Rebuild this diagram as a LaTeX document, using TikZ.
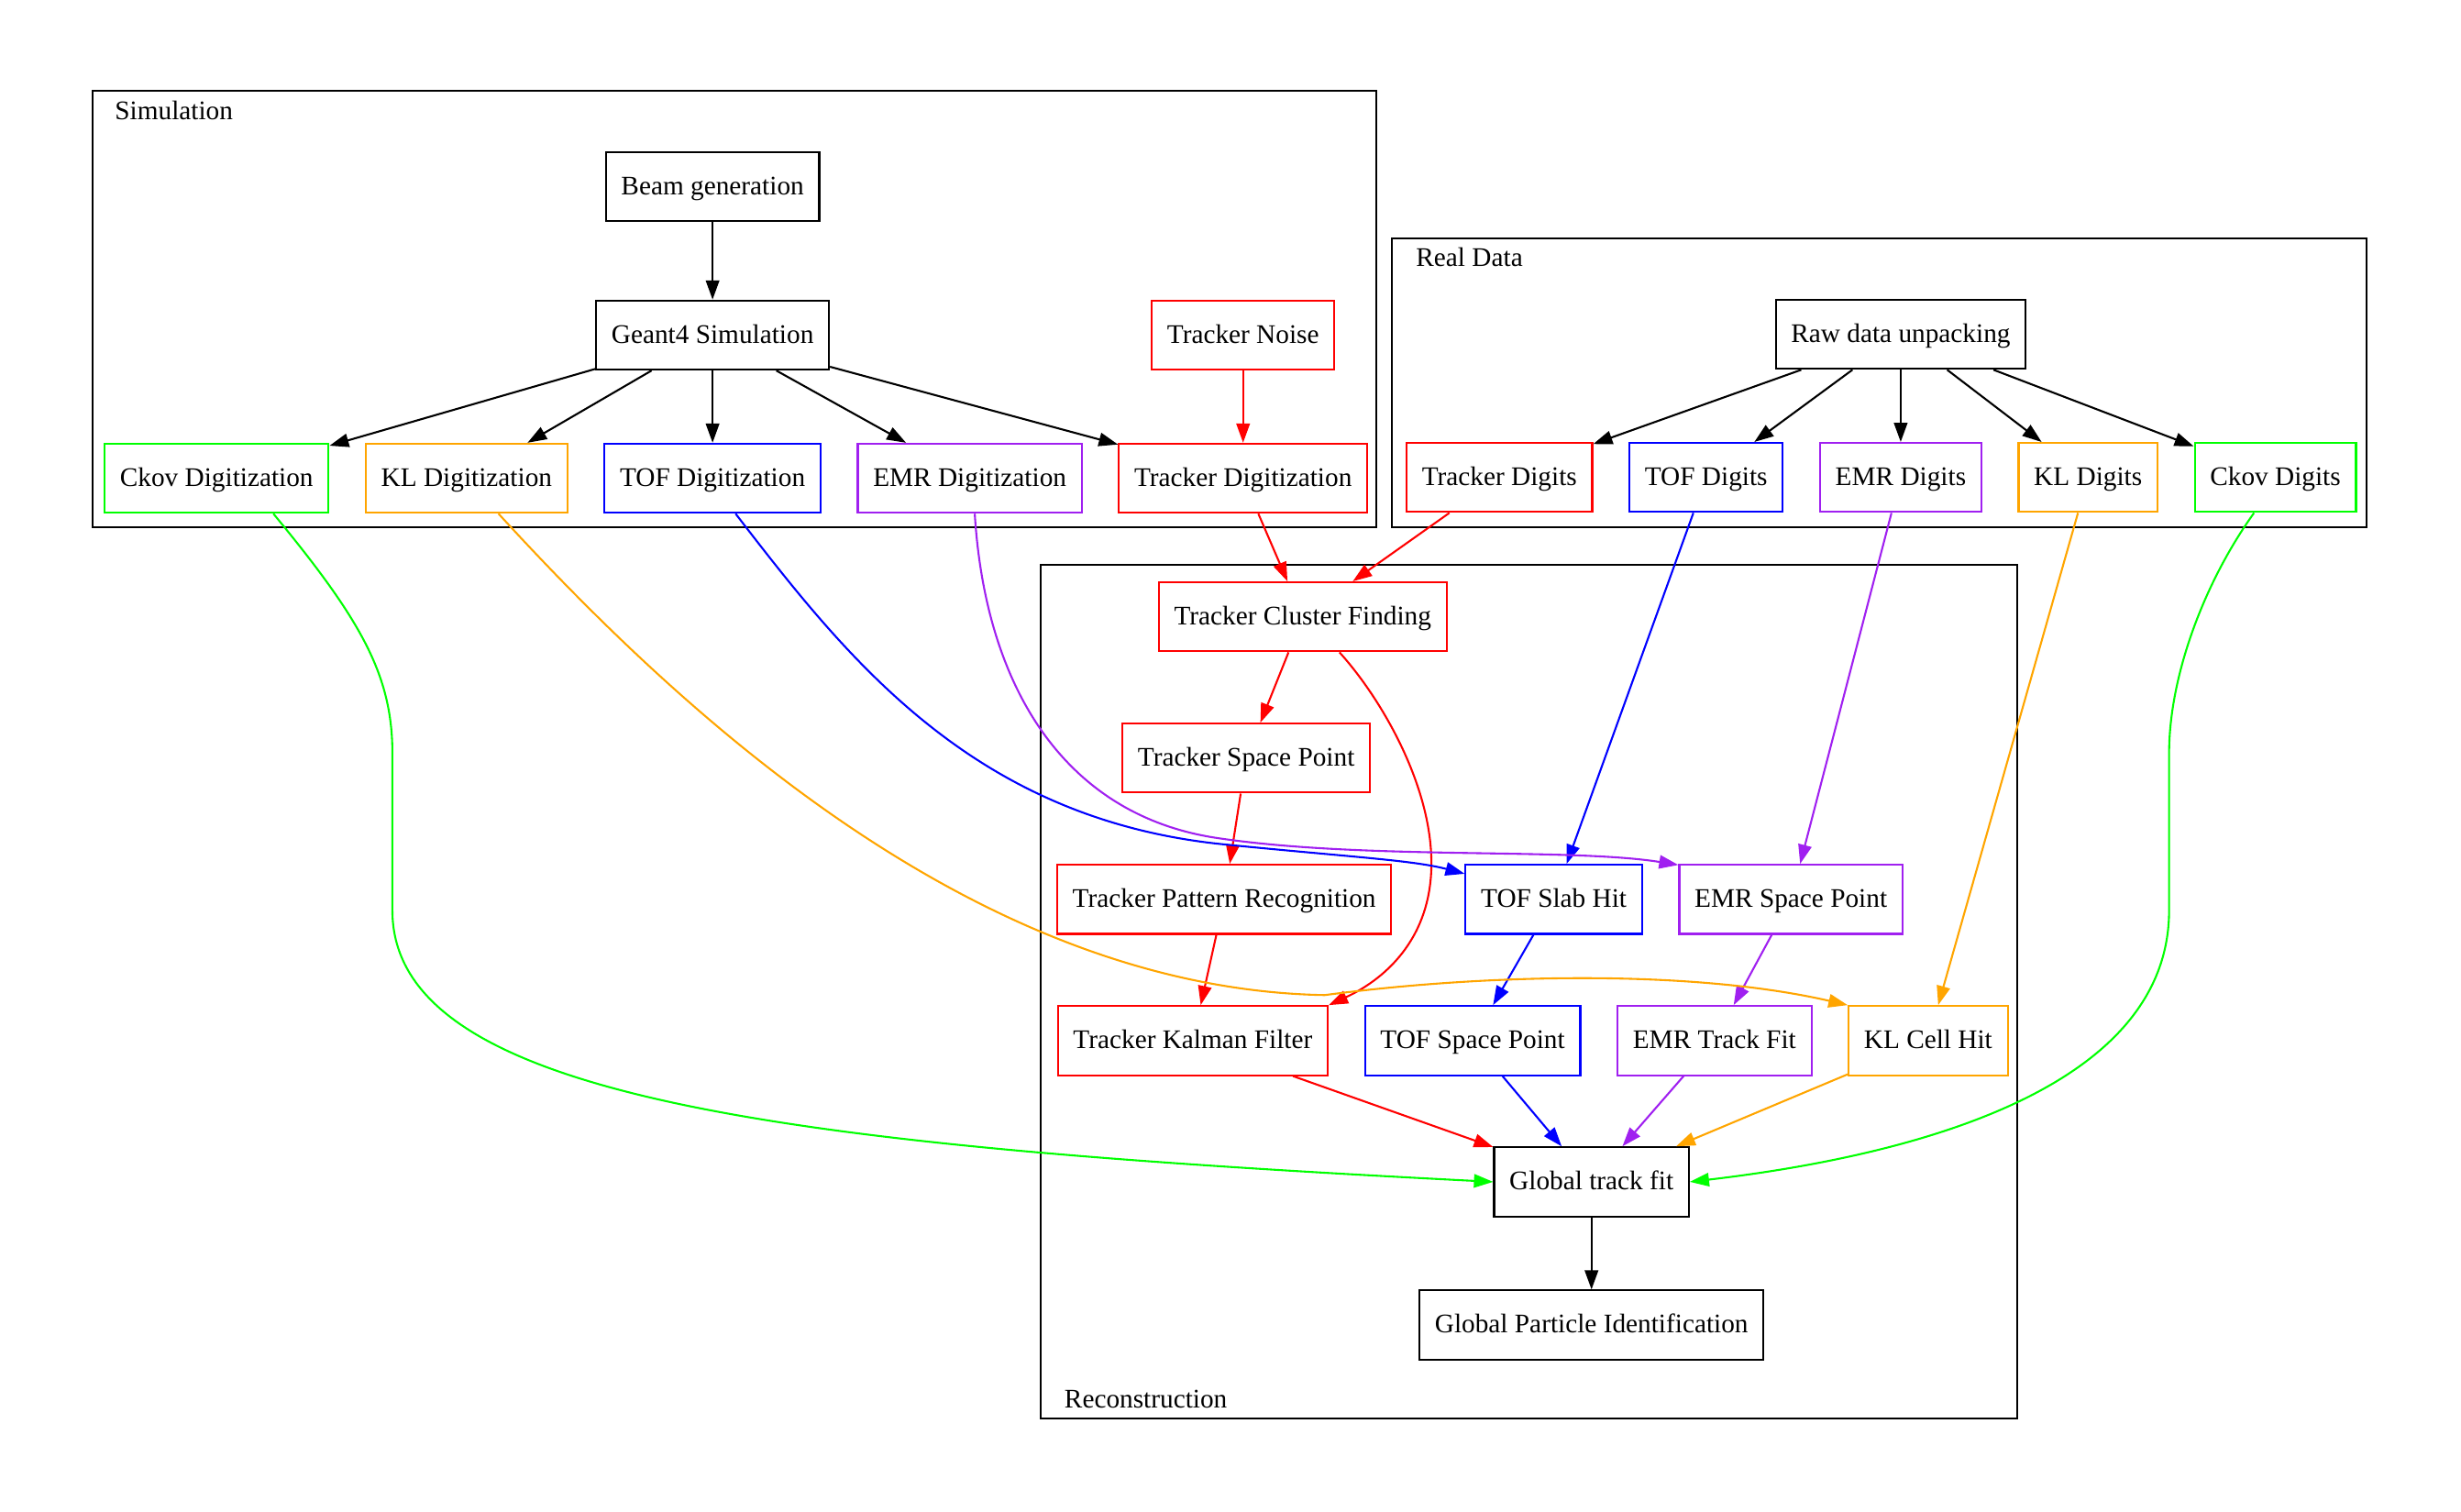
\documentclass[tikz,border=0pt]{standalone}
\usepackage{fontspec}
\setmainfont{Liberation Serif}
\usetikzlibrary{positioning, arrows.meta}
\definecolor{trkred}{RGB}{255,0,0}
\definecolor{tofblue}{RGB}{0,0,255}
\definecolor{emrpurple}{RGB}{160,32,240}
\definecolor{klorange}{RGB}{255,165,0}
\definecolor{ckovgreen}{RGB}{0,255,0}

\begin{document}
\begin{tikzpicture}[
  x=0.818pt, y=-0.818pt,
  node distance=37.6pt and 18.4pt,
  box/.style={
    rectangle, draw=black, line width=1pt, minimum height=36pt,
    inner xsep=8pt, inner ysep=0pt, text height=11pt, text depth=2.6pt,
    font=\fontsize{14}{16}\selectfont
  },
  trkbox/.style ={box, draw=trkred},
  tofbox/.style ={box, draw=tofblue},
  emrbox/.style ={box, draw=emrpurple},
  klbox/.style  ={box, draw=klorange},
  ckovbox/.style={box, draw=ckovgreen},
  cluster/.style={draw=black, line width=1pt},
  clusterlabel/.style={anchor=base west, inner sep=0pt, font=\fontsize{14}{16}\selectfont},
  arrow/.style={-{Triangle[length=10pt, width=7pt]}, line width=1pt}
]
  \useasboundingbox (0,0) rectangle (1568,963);

  % clusters
  \draw[cluster] (59,58) rectangle (877,336);
  \node[clusterlabel] (simlabel) at (73,76) {Simulation};
  \draw[cluster] (887,152) rectangle (1508,336);
  \node[clusterlabel] (datalabel) at (902,170) {Real Data};
  \draw[cluster] (663,360) rectangle (1285,904);
  \node[clusterlabel] (recolabel) at (678,897) {Reconstruction};

  % simulation
  \node[box] (beam) at (454,119) {Beam generation};
  \node[box,     below=40.3pt of beam] (geant)   {Geant4 Simulation};
  \node[tofbox,  below=of geant]       (tofdig)  {TOF Digitization};
  \node[klbox,   left=of tofdig]       (kldig)   {KL Digitization};
  \node[ckovbox, left=of kldig]        (ckovdig) {Ckov Digitization};
  \node[emrbox,  right=of tofdig]      (emrdig)  {EMR Digitization};
  \node[trkbox,  right=of emrdig]      (trkdig)  {Tracker Digitization};
  \node[trkbox,  above=of trkdig]      (noise)   {Tracker Noise};

  % real data
  \node[box] (raw) at (1211,213) {Raw data unpacking};
  \node[emrbox,  below=of raw]         (emrdigits)  {EMR Digits};
  \node[tofbox,  left=of emrdigits]    (tofdigits)  {TOF Digits};
  \node[trkbox,  left=of tofdigits]    (trkdigits)  {Tracker Digits};
  \node[klbox,   right=of emrdigits]   (kldigits)   {KL Digits};
  \node[ckovbox, right=of kldigits]    (ckovdigits) {Ckov Digits};

  % reconstruction
  \node[trkbox] (cluster) at (830,393) {Tracker Cluster Finding};
  \node[trkbox] (spacept) at (794,483) {Tracker Space Point};
  \node[trkbox] (patrec)  at (780,573) {Tracker Pattern Recognition};
  \node[tofbox] (slabhit) at (990,573) {TOF Slab Hit};
  \node[emrbox, right=of slabhit]  (emrsp)   {EMR Space Point};
  \node[trkbox] (kalman)  at (760,663) {Tracker Kalman Filter};
  \node[tofbox, right=of kalman]   (tofsp)   {TOF Space Point};
  \node[emrbox, right=of tofsp]    (emrfit)  {EMR Track Fit};
  \node[klbox,  right=of emrfit]   (klhit)   {KL Cell Hit};
  \node[box] (global) at (1014,753) {Global track fit};
  \node[box, below=of global] (pid) {Global Particle Identification};

  % black edges
  \draw[arrow] (beam) -- (geant);
  \foreach \n in {ckovdig, kldig, tofdig, emrdig, trkdig}
    \draw[arrow] (geant) -- (\n);
  \foreach \n in {trkdigits, tofdigits, emrdigits, kldigits, ckovdigits}
    \draw[arrow] (raw) -- (\n);
  \draw[arrow] (global) -- (pid);

  % tracker
  \draw[arrow, trkred] (noise) -- (trkdig);
  \draw[arrow, trkred] (trkdig) -- (cluster);
  \draw[arrow, trkred] (trkdigits) -- (cluster);
  \draw[arrow, trkred] (cluster) -- (spacept);
  \draw[arrow, trkred] (spacept) -- (patrec);
  \draw[arrow, trkred] (patrec) -- (kalman);
  \draw[arrow, trkred] (cluster.-44) .. controls (880,445) and (912,500) .. (912,550)
    .. controls (912,600) and (880,625) .. (kalman.north east);
  \draw[arrow, trkred] (kalman) -- (global);

  % tof
  \draw[arrow, tofblue] (tofdig.-57) .. controls (540,420) and (620,522) .. (780,538)
    .. controls (860,546) and (900,548) .. (slabhit.164);
  \draw[arrow, tofblue] (tofdigits) -- (slabhit);
  \draw[arrow, tofblue] (slabhit) -- (tofsp);
  \draw[arrow, tofblue] (tofsp) -- (global);

  % emr
  \draw[arrow, emrpurple] (emrdig.-82) .. controls (628,440) and (680,520) .. (776,534)
    .. controls (870,548) and (1000,540) .. (emrsp.163);
  \draw[arrow, emrpurple] (emrdigits) -- (emrsp);
  \draw[arrow, emrpurple] (emrsp) -- (emrfit);
  \draw[arrow, emrpurple] (emrfit) -- (global);

  % kl
  \draw[arrow, klorange] (kldig.-48) .. controls (430,450) and (620,630) .. (844,634)
    .. controls (950,620) and (1080,618) .. (klhit.north west);
  \draw[arrow, klorange] (kldigits) -- (klhit);
  \draw[arrow, klorange] (klhit) -- (global);

  % ckov
  \draw[arrow, ckovgreen] (ckovdig.-32) .. controls (230,395) and (250,430) .. (250,480)
    -- (250,580) .. controls (250,700) and (500,730) .. (global.west);
  \draw[arrow, ckovgreen] (ckovdigits.-121) .. controls (1405,370) and (1382,430) .. (1382,480)
    -- (1382,580) .. controls (1382,690) and (1230,735) .. (global.east);
\end{tikzpicture}
\end{document}
